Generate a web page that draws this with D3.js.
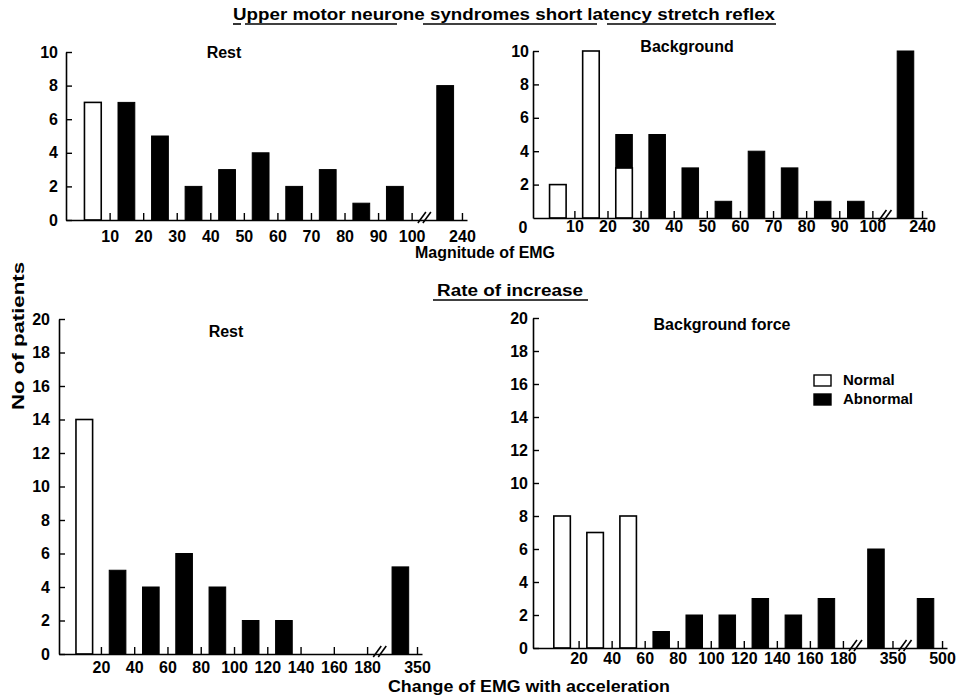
<!DOCTYPE html>
<html>
<head>
<meta charset="utf-8">
<script src="https://cdn.jsdelivr.net/npm/d3@7"></script>
<style>
  body { margin: 0; background: #fff; }
  svg text { font-family: "Liberation Sans", Arial, sans-serif; font-weight: bold; fill: #000; }
</style>
</head>
<body>
<div class="canvas"></div>
<script>
// ---- data ----
// Magnitude of EMG (upper bound of each bin)
const magLabels = ["10", "20", "30", "40", "50", "60", "70", "80", "90", "100", "240"];
const magBreaks = [10]; // bins drawn after an axis break
const restMagNormal = [7, 0, 0, 0, 0, 0, 0, 0, 0, 0, 0];
const restMagAbnormal = [0, 7, 5, 2, 3, 4, 2, 3, 1, 2, 8];
const bgMagNormal = [2, 10, 3, 0, 0, 0, 0, 0, 0, 0, 0];
const bgMagAbnormal = [0, 0, 2, 5, 3, 1, 4, 3, 1, 1, 10];

// Change of EMG with acceleration
const restRateLabels = ["20", "40", "60", "80", "100", "120", "140", "160", "180", "350"];
const restRateBreaks = [9];
const restRateNormal = [14, 0, 0, 0, 0, 0, 0, 0, 0, 0];
const restRateAbnormal = [0, 5, 4, 6, 4, 2, 2, 0, 0, 5.2];

const bgRateLabels = ["20", "40", "60", "80", "100", "120", "140", "160", "180", "350", "500"];
const bgRateBreaks = [9, 10];
const bgRateNormal = [8, 7, 8, 0, 0, 0, 0, 0, 0, 0, 0];
const bgRateAbnormal = [0, 0, 0, 1, 2, 2, 3, 2, 3, 6, 3];

const magTicks = [0, 2, 4, 6, 8, 10];
const rateTicks = [0, 2, 4, 6, 8, 10, 12, 14, 16, 18, 20];

const legendItems = ["Normal", "Abnormal"];

// ---- svg ----
const W = 958, H = 695;
const svg = d3.select(".canvas").append("svg")
  .attr("width", W).attr("height", H);

// slot layout: regular bin i sits in [i, i+1]; a broken bin takes 1.5 slots
const slotLayout = (n, breaks) => {
  let pos = 0;
  const centers = [], ticks = [], breakAt = [];
  for (let i = 0; i < n; i++) {
    if (breaks.includes(i)) {
      breakAt.push(pos + 0.38);
      centers.push(pos + 1.0);
      pos += 1.5;
    } else {
      centers.push(pos + 0.5);
      pos += 1;
    }
    ticks.push(pos);
  }
  return { centers, ticks, breakAt, end: pos + 0.15 };
};

const drawPanel = (p) => {
  const lay = slotLayout(p.labels.length, p.breaks);
  const x = d3.scaleLinear().domain([-p.pad, lay.end]).range([p.left, p.right]);
  const y = d3.scaleLinear().domain([0, p.ymax]).range([p.bottom, p.top]);
  const g = svg.append("g");

  // bars (normal at bottom, abnormal stacked on top)
  const bw = 0.5;
  const rows = p.labels.map((l, i) => ({ c: lay.centers[i], n: p.normal[i], a: p.abnormal[i] }));
  g.selectAll("rect.normal").data(rows.filter((d) => d.n > 0)).join("rect")
    .attr("x", (d) => x(d.c - bw / 2))
    .attr("width", x(bw) - x(0))
    .attr("y", (d) => y(d.n))
    .attr("height", (d) => y(0) - y(d.n))
    .attr("fill", "#fff").attr("stroke", "#000").attr("stroke-width", 1.6);
  g.selectAll("rect.abn").data(rows.filter((d) => d.a > 0)).join("rect")
    .attr("x", (d) => x(d.c - bw / 2))
    .attr("width", x(bw) - x(0))
    .attr("y", (d) => y(d.n + d.a))
    .attr("height", (d) => y(d.n) - y(d.n + d.a))
    .attr("fill", "#000").attr("stroke", "#000").attr("stroke-width", 1);

  // y axis, ticks pointing inward
  const yAxis = d3.axisLeft(y).tickValues(p.yticks).tickFormat(d3.format("d"))
    .tickSizeInner(-6).tickSizeOuter(0).tickPadding(p.ypad);
  const ya = g.append("g").attr("transform", `translate(${p.left},0)`).call(yAxis);
  ya.select(".domain").attr("stroke-width", 1.6);
  ya.selectAll(".tick line").attr("stroke-width", 1.4);
  ya.selectAll("text").attr("font-size", 16).attr("font-family", null);

  // x axis, ticks pointing up
  const xAxis = d3.axisBottom(x).tickValues(lay.ticks).tickFormat((d, i) => p.labels[i])
    .tickSizeInner(-7).tickSizeOuter(0).tickPadding(p.xpad);
  const xa = g.append("g").attr("transform", `translate(0,${p.bottom})`).call(xAxis);
  xa.select(".domain").attr("stroke-width", 1.6);
  xa.selectAll(".tick line").attr("stroke-width", 1.4);
  xa.selectAll("text").attr("font-size", 16).attr("font-family", null);

  if (p.origin) {
    g.append("text").attr("x", p.left - 10).attr("y", p.bottom + 15)
      .attr("text-anchor", "middle").attr("font-size", 16).text("0");
  }

  // axis break marks
  lay.breakAt.forEach((b) => {
    [-2.5, 2.5].forEach((dx) => {
      g.append("line")
        .attr("x1", x(b) + dx - 4).attr("y1", p.bottom + 3)
        .attr("x2", x(b) + dx + 4).attr("y2", p.bottom - 8)
        .attr("stroke", "#000").attr("stroke-width", 1.6);
    });
  });

  g.append("text").attr("x", p.title[1]).attr("y", p.title[2])
    .attr("text-anchor", "middle").attr("font-size", 16).text(p.title[0]);
};

drawPanel({ labels: magLabels, breaks: magBreaks, normal: restMagNormal, abnormal: restMagAbnormal,
  left: 66, right: 467, top: 52, bottom: 220, pad: 0.3, ymax: 10, yticks: magTicks,
  ypad: 8, xpad: 11, title: ["Rest", 224, 58] });
drawPanel({ labels: magLabels, breaks: magBreaks, normal: bgMagNormal, abnormal: bgMagAbnormal,
  left: 533, right: 927, top: 51, bottom: 218, pad: 0.25, ymax: 10, yticks: magTicks.slice(1),
  ypad: 4, xpad: 3, origin: true, title: ["Background", 687, 52] });
drawPanel({ labels: restRateLabels, breaks: restRateBreaks, normal: restRateNormal, abnormal: restRateAbnormal,
  left: 59, right: 422, top: 319, bottom: 654, pad: 0.26, ymax: 20, yticks: rateTicks,
  ypad: 9, xpad: 8, title: ["Rest", 226, 337] });
drawPanel({ labels: bgRateLabels, breaks: bgRateBreaks, normal: bgRateNormal, abnormal: bgRateAbnormal,
  left: 533, right: 947, top: 318, bottom: 648, pad: 0.38, ymax: 20, yticks: rateTicks,
  ypad: 5, xpad: 5, title: ["Background force", 722, 330] });

// headings with underline pieces
const heading = (txt, cx, by, len, segs) => {
  svg.append("text").attr("x", cx).attr("y", by).attr("text-anchor", "middle")
    .attr("font-size", 16).attr("font-weight", "normal")
    .attr("textLength", len).attr("lengthAdjust", "spacingAndGlyphs").text(txt);
  segs.forEach((s) => svg.append("line")
    .attr("x1", s[0]).attr("x2", s[1]).attr("y1", by + 4).attr("y2", by + 4)
    .attr("stroke", "#000").attr("stroke-width", 1.6));
};
heading("Upper motor neurone syndromes short latency stretch reflex", 504, 20, 542,
  [[233, 241], [245, 397], [423, 597], [607, 776]]);
heading("Rate of increase", 510, 296, 146, [[433, 588]]);

// axis titles
svg.append("text").attr("x", 485).attr("y", 258).attr("text-anchor", "middle")
  .attr("font-size", 16).attr("textLength", 140).attr("lengthAdjust", "spacingAndGlyphs")
  .text("Magnitude of EMG");
svg.append("text").attr("x", 529).attr("y", 692).attr("text-anchor", "middle")
  .attr("font-size", 16).attr("textLength", 282).attr("lengthAdjust", "spacingAndGlyphs")
  .text("Change of EMG with acceleration");
svg.append("text").attr("transform", "translate(24,336) rotate(-90)").attr("text-anchor", "middle")
  .attr("font-size", 16).attr("textLength", 148).attr("lengthAdjust", "spacingAndGlyphs")
  .text("No of patients");

// legend
const legend = svg.append("g").attr("transform", "translate(814,375)");
legend.selectAll("rect").data(legendItems).join("rect")
  .attr("x", 0).attr("y", (d, i) => i * 19)
  .attr("width", 17).attr("height", 11)
  .attr("fill", (d, i) => (i ? "#000" : "#fff")).attr("stroke", "#000").attr("stroke-width", 1.4);
legend.selectAll("text").data(legendItems).join("text")
  .attr("x", 29).attr("y", (d, i) => i * 19 + 10)
  .attr("font-size", 15).text((d) => d);
</script>
</body>
</html>
